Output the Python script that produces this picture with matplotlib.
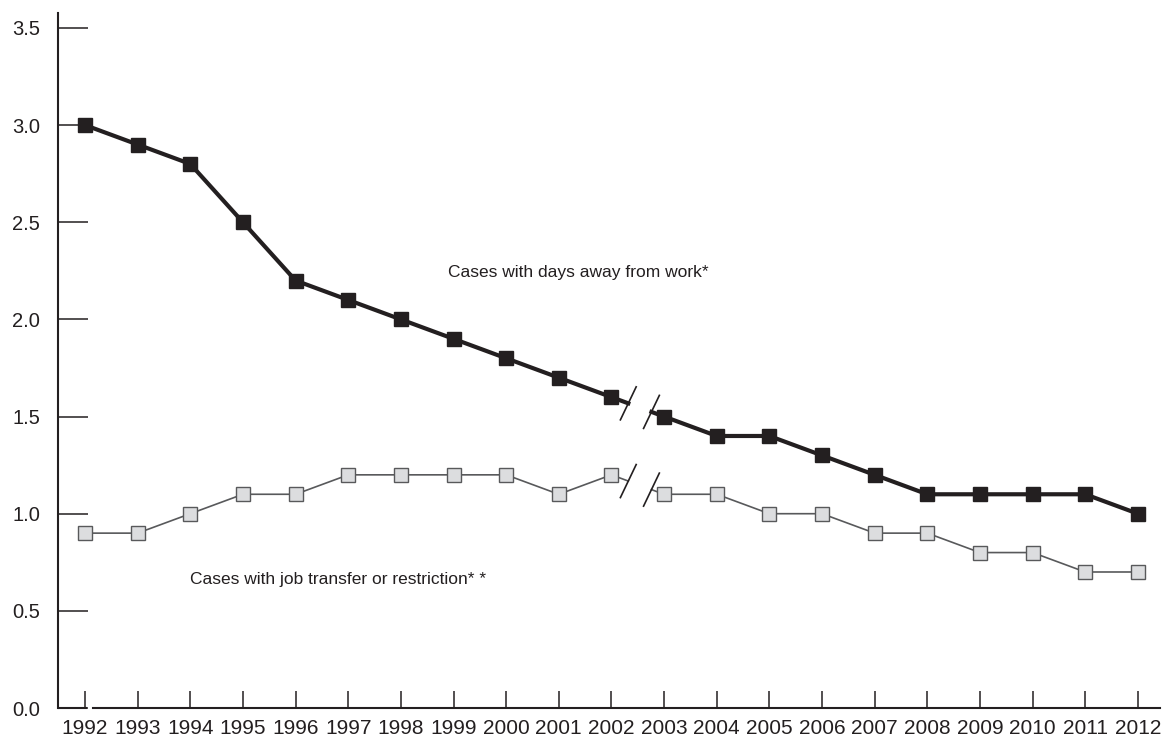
import numpy as np
import matplotlib.pyplot as plt

plt.rcParams['font.family'] = ['Liberation Sans', 'DejaVu Sans']

years = list(range(1992, 2013))
days_away = [3.0, 2.9, 2.8, 2.5, 2.2, 2.1, 2.0, 1.9, 1.8, 1.7, 1.6,
             1.5, 1.4, 1.4, 1.3, 1.2, 1.1, 1.1, 1.1, 1.1, 1.0]
job_transfer = [0.9, 0.9, 1.0, 1.1, 1.1, 1.2, 1.2, 1.2, 1.2, 1.1, 1.2,
                1.1, 1.1, 1.0, 1.0, 0.9, 0.9, 0.8, 0.8, 0.7, 0.7]
yticks = [0.0, 0.5, 1.0, 1.5, 2.0, 2.5, 3.0, 3.5]

ink = '#231f20'
grey = '#58595b'
light = '#dcdddf'

fig = plt.figure(figsize=(11.64, 7.39), dpi=100)
ax = fig.add_axes([58 / 1164, 31 / 739, 1102 / 1164, 695 / 739])
xmin, xmax = 1991.487, 2012.42
ax.set_xlim(xmin, xmax)
ax.set_ylim(0, 3.577)

brk = 10  # break between 2002 and 2003
f1, f2 = 0.32, 0.76

def draw_series(vals, color, lw, mfc, mec, ms, z):
    x = np.array(years, dtype=float)
    y = np.array(vals, dtype=float)
    ax.plot(x[:brk + 1], y[:brk + 1], color=color, lw=lw, zorder=z)
    ax.plot(x[brk + 1:], y[brk + 1:], color=color, lw=lw, zorder=z)
    # partial segments either side of the break
    xa = x[brk] + f1 * (x[brk + 1] - x[brk])
    ya = y[brk] + f1 * (y[brk + 1] - y[brk])
    xb = x[brk] + f2 * (x[brk + 1] - x[brk])
    yb = y[brk] + f2 * (y[brk + 1] - y[brk])
    ax.plot([x[brk], xa], [y[brk], ya], color=color, lw=lw, zorder=z)
    ax.plot([xb, x[brk + 1]], [yb, y[brk + 1]], color=color, lw=lw, zorder=z)
    for xs, ys in [(xa, ya), (xb, yb)]:
        ax.plot([xs - 0.15, xs + 0.15], [ys - 0.085, ys + 0.085],
                color=ink, lw=1.2, zorder=z + 1)
    ax.plot(x, y, ls='none', marker='s', ms=ms, mfc=mfc, mec=mec,
            mew=1.0, zorder=z + 2)

draw_series(days_away, ink, 3.0, ink, ink, 9.5, 3)
draw_series(job_transfer, grey, 1.2, light, grey, 9.5, 3)

ax.text(1998.89, 2.24, 'Cases with days away from work*', fontsize=12.5,
        color=ink, va='center', ha='left')
ax.text(1994.0, 0.66, 'Cases with job transfer or restriction* *',
        fontsize=12.5, color=ink, va='center', ha='left')

for s in ['top', 'right']:
    ax.spines[s].set_visible(False)
ax.spines['left'].set_linewidth(1.5)
ax.spines['left'].set_color(ink)
ax.spines['bottom'].set_linewidth(1.5)
ax.spines['bottom'].set_color(ink)
ax.spines['bottom'].set_bounds(1992.15, xmax)
ax.plot([xmin, 1992.04], [0, 0], color=ink, lw=1.5, clip_on=False,
        solid_capstyle='butt')

ax.set_xticks(years)
ax.set_xticklabels([str(y) for y in years])
ax.set_yticks(yticks)
ax.set_yticklabels(['%.1f' % v for v in yticks])
ax.tick_params(axis='y', direction='in', length=21.5, width=1.1, color=ink,
               pad=13, labelsize=14.5, labelcolor=ink)
ax.tick_params(axis='x', direction='in', length=12, width=1.1, color=ink,
               pad=8, labelsize=15, labelcolor=ink)

fig.savefig('out.png', dpi=100)
